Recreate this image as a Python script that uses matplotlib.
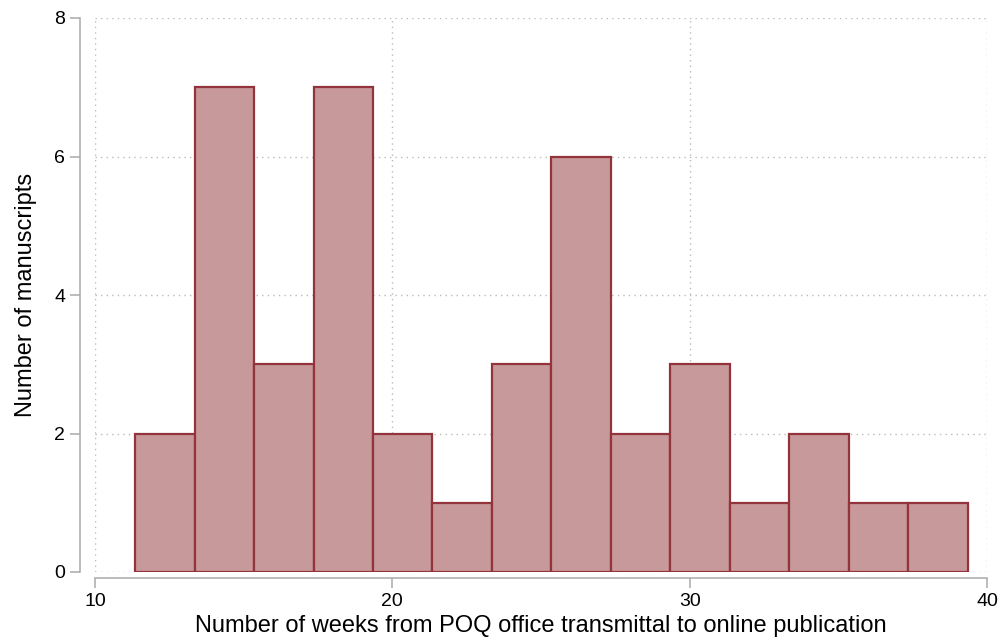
import matplotlib
matplotlib.use("Agg")
import matplotlib.pyplot as plt

plt.rcParams['font.family'] = ['Liberation Sans', 'DejaVu Sans']

# histogram bins (left edges) and counts
bin_start = 11.35
bin_width = 2.0
counts = [2, 7, 3, 7, 2, 1, 3, 6, 2, 3, 1, 2, 1, 1]
lefts = [bin_start + i * bin_width for i in range(len(counts))]

x_ticks = [10, 20, 30, 40]
y_ticks = [0, 2, 4, 6, 8]

fig = plt.figure(figsize=(10, 6.41), dpi=100)
ax = fig.add_axes([0.095, 1 - 572 / 641, 0.892, (572 - 18) / 641])

ax.bar(lefts, counts, width=bin_width, align='edge', color='#c8999b',
       edgecolor='#93333c', linewidth=1.6, zorder=3)

ax.set_xlim(10, 40)
ax.set_ylim(0, 8)
ax.set_xticks(x_ticks)
ax.set_yticks(y_ticks)
ax.grid(True, color='#bbbbbb', linestyle=(0, (1, 3)), linewidth=1.0, zorder=0)

for s in ['top', 'right']:
    ax.spines[s].set_visible(False)
ax.spines['left'].set_position(('outward', 11))
ax.spines['bottom'].set_position(('outward', 4.5))
for s in ['left', 'bottom']:
    ax.spines[s].set_color('#aaaaaa')
    ax.spines[s].set_linewidth(1.1)
ax.tick_params(axis='both', colors='#aaaaaa', length=7, width=1.1,
               labelcolor='black', labelsize=14)

ax.set_xlabel('Number of weeks from POQ office transmittal to online publication',
              fontsize=17, labelpad=4)
ax.set_ylabel('Number of manuscripts', fontsize=17, labelpad=12)

fig.savefig('out.png', dpi=100)
